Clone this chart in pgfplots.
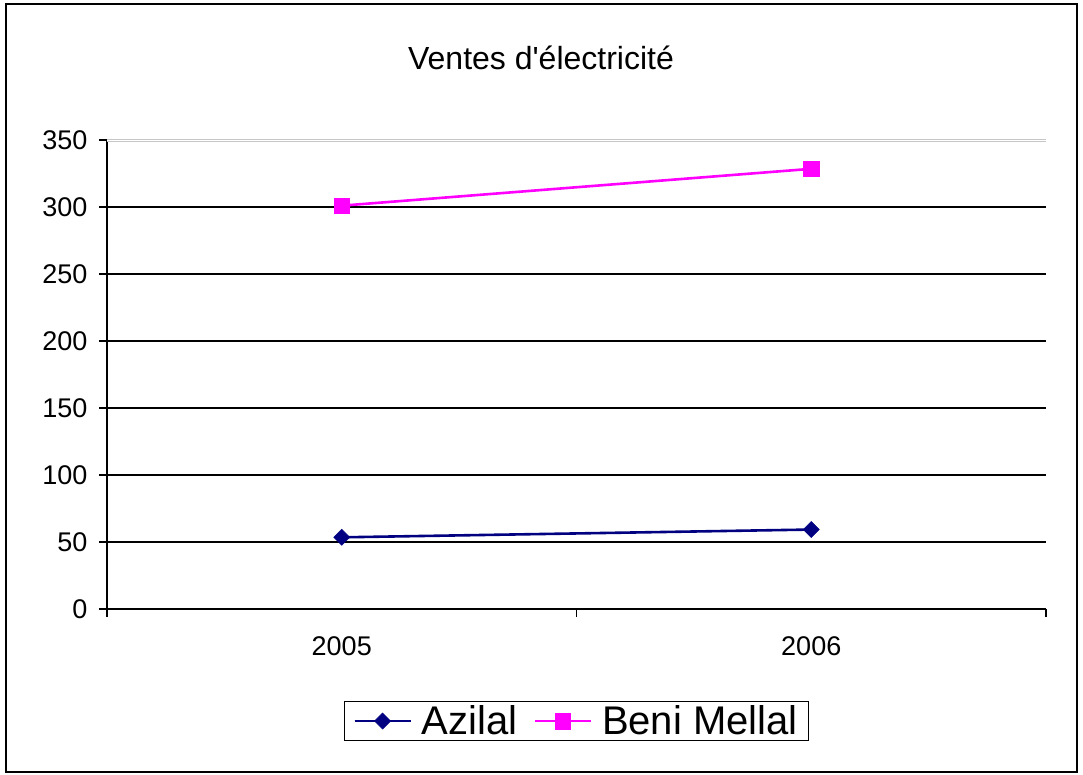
\documentclass[border=0pt]{standalone}
\usepackage{fontspec}
\setmainfont{Liberation Sans}
\newfontfamily\arialplain{Liberation Sans}
\usepackage{pgfplots}
\pgfplotsset{compat=1.18}
\definecolor{azil}{HTML}{000080}
\definecolor{beni}{HTML}{FF00FF}
\begin{document}
\begin{tikzpicture}[x=1pt,y=1pt]
\useasboundingbox (0,0) rectangle (1083,-774);
\draw[line width=2pt] (6,-4) rectangle (1077,-772);
\node[font=\arialplain\fontsize{32}{38}\selectfont] at (541,-58) {Ventes d'électricité};
\begin{axis}[
  at={(107pt,-609pt)}, anchor=origin,
  scale only axis, width=939pt, height=469pt,
  xmin=0, xmax=2, ymin=0, ymax=350,
  axis lines=left, axis line style={-, line width=1.3pt, black},
  xtick={0.5,1.5}, xticklabels={2005,2006},
  minor xtick={0,1,2},
  major x tick style={draw=none},
  minor x tick style={line width=1.3pt, black},
  minor tick length=8pt,
  ytick={0,50,...,300},
  extra y ticks={350},
  extra y tick style={grid style={gray!45, line width=1pt, double, double distance=1pt}},
  ymajorgrids, grid style={line width=1.6pt, black},
  y tick style={line width=1.3pt, black},
  major tick length=8pt,
  tick align=outside,
  tick label style={font=\fontsize{27}{32}\selectfont},
  /pgf/number format/assume math mode=true,
  xticklabel style={yshift=-16pt},
  yticklabel style={xshift=-8pt},
  clip=false,
  legend columns=-1,
  legend style={at={(0.5,-0.2388)}, anchor=center, draw=black, line width=1.3pt,
    font=\fontsize{40}{46}\selectfont, inner xsep=9pt, inner ysep=2pt,
    /tikz/every odd column/.append style={column sep=8pt},
    /tikz/every even column/.append style={column sep=14pt}},
  legend image code/.code={\draw[#1] (0pt,0pt) -- (28pt,0pt); \draw[#1, mark repeat=2, mark phase=2] plot coordinates {(0pt,0pt) (28pt,0pt) (56pt,0pt)}; \draw[#1] (28pt,0pt) -- (56pt,0pt);},
]
\addplot[color=azil, line width=2.6pt, mark=square*, mark size=5.7pt, mark options={solid, fill=azil, line width=0.5pt, rotate=45}]
  coordinates {(0.5,53.5) (1.5,59.3)};
\addlegendentry{Azilal}
\addplot[color=beni, line width=2.6pt, mark=square*, mark size=7.8pt, mark options={solid, fill=beni, line width=0.5pt}]
  coordinates {(0.5,301) (1.5,328.5)};
\addlegendentry{Beni Mellal}
\end{axis}
\end{tikzpicture}
\end{document}
